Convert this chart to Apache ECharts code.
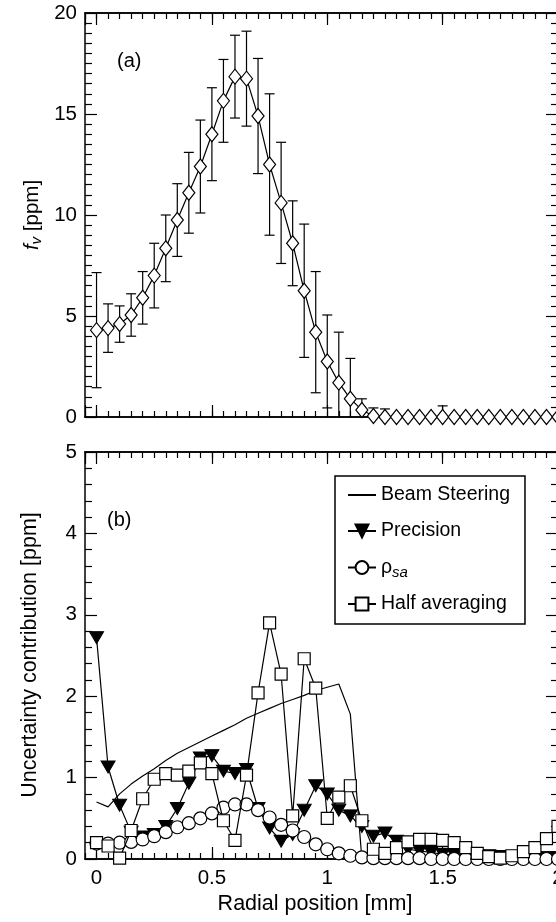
<!DOCTYPE html>
<html><head><meta charset="utf-8">
<script src="https://cdn.jsdelivr.net/npm/echarts@6/dist/echarts.min.js"></script>
<style>html,body{margin:0;padding:0;background:#fff}#c{width:556px;height:922px}</style>
</head><body><div id="c"></div>
<script>
const radialPositions = [0,0.05,0.1,0.15,0.2,0.25,0.3,0.35,0.4,0.45,0.5,0.55,0.6,0.65,0.7,0.75,0.8,0.85,0.9,0.95,1,1.05,1.1,1.15,1.2,1.25,1.3,1.35,1.4,1.45,1.5,1.55,1.6,1.65,1.7,1.75,1.8,1.85,1.9,1.95,2];
const fvValues = [4.3,4.4,4.6,5.05,5.9,7.0,8.35,9.75,11.1,12.4,14.0,15.65,16.85,16.75,14.9,12.5,10.6,8.6,6.25,4.2,2.75,1.7,0.9,0.35,0.05,0,0,0,0,0,0,0,0,0,0,0,0,0,0,0,0];
const fvErrors = [2.85,1.2,0.9,1.05,1.3,1.6,1.65,1.8,2.0,2.3,2.3,2.05,2.05,2.35,2.85,3.5,3.0,2.1,3.3,3.0,2.3,2.5,2.0,0.55,0.4,0.4,0,0,0,0,0.55,0,0,0,0,0,0,0,0,0,0];
const beamSteering = [0.70,0.64,0.80,0.92,1.02,1.11,1.21,1.30,1.37,1.44,1.51,1.58,1.65,1.73,1.79,1.85,1.91,1.96,2.01,2.07,2.11,2.15,1.78,0,0,0,0,0,0,0,0,0,0,0,0,0,0,0,0,0,0];
const precision = [2.72,1.13,0.66,0.33,0.27,0.3,0.4,0.62,0.93,1.24,1.27,1.08,1.05,1.1,0.62,0.38,0.22,0.3,0.6,0.9,0.8,0.6,0.53,0.4,0.28,0.32,0.22,0.12,0.1,0.08,0.06,0.05,0.05,0.04,0.04,0.03,0.03,0.03,0.02,0.02,0.02];
const rhoSa = [0.19,0.19,0.2,0.21,0.24,0.28,0.33,0.39,0.44,0.5,0.56,0.63,0.67,0.67,0.6,0.51,0.42,0.35,0.27,0.18,0.12,0.07,0.04,0.02,0.01,0.01,0.01,0.01,0.01,0,0,0,0,0,0,0,0,0,0,0,0];
const halfAveraging = [0.2,0.16,0.01,0.35,0.74,0.98,1.05,1.03,1.08,1.18,1.05,0.47,0.23,1.03,2.04,2.9,2.27,0.53,2.46,2.1,0.5,0.76,0.9,0.47,0.12,0.07,0.14,0.21,0.24,0.24,0.23,0.2,0.14,0.07,0.03,0.01,0.04,0.09,0.14,0.25,0.4];
const seriesNames = ['Beam Steering','Precision','ρsa','Half averaging'];
const xTickLabels = ['0','0.5','1','1.5','2'];

const FONT = 'Liberation Sans, Arial, Helvetica, sans-serif';
const BLACK = '#000';
const chart = echarts.init(document.getElementById('c'), null, {renderer:'canvas'});

function pairs(vals){ return radialPositions.map((x,i)=>[x, vals[i]]); }

function xAxesFor(grid, labels){
  const base = {gridIndex:grid, type:'value', min:-0.05, max:2.0, splitLine:{show:false},
    axisLine:{show:true, onZero:false, lineStyle:{color:BLACK, width:1.5}}};
  const tickStyle = {color:BLACK, width:1.2};
  return [
    Object.assign({}, base, {position:'bottom', interval:0.05, axisTick:{show:true, inside:true, length:6, lineStyle:tickStyle}, axisLabel:{show:false}}),
    Object.assign({}, base, {position:'bottom', splitNumber:4, axisTick:{show:true, inside:true, length:12, lineStyle:tickStyle},
      axisLabel:{show:labels, showMinLabel:false, margin:9, color:BLACK, fontFamily:FONT, fontSize:20.5,
        formatter:(v)=>{ const i = xTickLabels.indexOf(String(v)); return i>=0 ? xTickLabels[i] : ''; }}}),
    Object.assign({}, base, {position:'top', interval:0.05, axisTick:{show:true, inside:true, length:6, lineStyle:tickStyle}, axisLabel:{show:false}}),
    Object.assign({}, base, {position:'top', splitNumber:4, axisTick:{show:true, inside:true, length:12, lineStyle:tickStyle}, axisLabel:{show:false}})
  ];
}
function yAxesFor(grid, max, interval, minorSplit){
  const base = {gridIndex:grid, type:'value', min:0, max:max, interval:interval, splitLine:{show:false},
    axisLine:{show:true, onZero:false, lineStyle:{color:BLACK, width:1.5}},
    axisTick:{show:true, inside:true, length:12, lineStyle:{color:BLACK, width:1.2}},
    minorTick:{show:true, splitNumber:minorSplit, length:7, lineStyle:{color:BLACK, width:1.2}}};
  return [
    Object.assign({}, base, {position:'left', axisLabel:{show:true, margin:8, color:BLACK, fontFamily:FONT, fontSize:20.5}}),
    Object.assign({}, base, {position:'right', axisLabel:{show:false}})
  ];
}

function errorBarRender(params, api){
  const err = api.value(3);
  if (!err) return null;
  const x = api.value(0);
  const lo = api.coord([x, api.value(1)]);
  const hi = api.coord([x, api.value(2)]);
  const w = 5;
  const st = {stroke:BLACK, lineWidth:1.2, fill:null};
  return {type:'group', children:[
    {type:'line', shape:{x1:lo[0], y1:lo[1], x2:hi[0], y2:hi[1]}, style:st},
    {type:'line', shape:{x1:hi[0]-w, y1:hi[1], x2:hi[0]+w, y2:hi[1]}, style:st},
    {type:'line', shape:{x1:lo[0]-w, y1:lo[1], x2:lo[0]+w, y2:lo[1]}, style:st}
  ]};
}

const triDown = 'path://M0,0L20,0L10,17Z';

const option = {
  animation:false,
  backgroundColor:'#fff',
  grid:[
    {left:85, top:13, width:473, height:404, containLabel:false, outerBoundsMode:'none'},
    {left:85, top:452, width:473, height:407, containLabel:false, outerBoundsMode:'none'}
  ],
  xAxis: xAxesFor(0,false).concat(xAxesFor(1,true)),
  yAxis: yAxesFor(0,20,5,10).concat(yAxesFor(1,5,1,5)),
  legend:{
    show:true, orient:'vertical', left:335, top:476, selectedMode:false,
    data:seriesNames,
    backgroundColor:'#fff', borderColor:BLACK, borderWidth:1.5, borderRadius:0,
    padding:[7,15,8,12], itemGap:12, itemWidth:28, itemHeight:16,
    textStyle:{fontFamily:FONT, fontSize:19.5, color:BLACK, lineHeight:24,
      rich:{
        g:{fontFamily:FONT, fontSize:19.5, color:BLACK, lineHeight:24},
        s:{fontFamily:FONT, fontSize:15, fontStyle:'italic', color:BLACK, lineHeight:14, padding:[10,0,0,0]}
      }},
    formatter:(name)=> name==='ρsa' ? '{g|ρ}{s|sa}' : name
  },
  graphic:[
    {type:'text', left:117, top:51, style:{text:'(a)', fontFamily:FONT, fontSize:20, fill:BLACK}},
    {type:'text', left:107, top:510, style:{text:'(b)', fontFamily:FONT, fontSize:20, fill:BLACK}},
    {type:'text', x:32, y:215, rotation:Math.PI/2,
      style:{text:'{i|f}{v|v}{n| [ppm]}', align:'center', verticalAlign:'middle', fill:BLACK,
        rich:{i:{fontFamily:FONT, fontSize:20.5, fontStyle:'italic', fill:BLACK},
              v:{fontFamily:FONT, fontSize:15, fontStyle:'italic', fill:BLACK, padding:[10,0,0,0]},
              n:{fontFamily:FONT, fontSize:20.5, fill:BLACK}}}},
    {type:'text', x:30, y:655, rotation:Math.PI/2,
      style:{text:'Uncertainty contribution [ppm]', align:'center', verticalAlign:'middle', fill:BLACK, fontFamily:FONT, fontSize:21.5}},
    {type:'text', x:315, y:904,
      style:{text:'Radial position [mm]', align:'center', verticalAlign:'middle', fill:BLACK, fontFamily:FONT, fontSize:21.5}}
  ],
  series:[
    {type:'custom', name:'fv error', xAxisIndex:0, yAxisIndex:0, clip:true, z:1,
      encode:{x:0, y:[1,2]},
      data: radialPositions.map((x,i)=>[x, fvValues[i]-fvErrors[i], fvValues[i]+fvErrors[i], fvErrors[i]]),
      renderItem: errorBarRender},
    {type:'line', name:'fv', xAxisIndex:0, yAxisIndex:0, data:pairs(fvValues), z:3, clip:true,
      symbol:'diamond', symbolSize:[12,15], showAllSymbol:true,
      lineStyle:{color:BLACK, width:1.2}, itemStyle:{color:'#fff', borderColor:BLACK, borderWidth:1.2}},
    {type:'line', name:'Beam Steering', xAxisIndex:4, yAxisIndex:2, data:pairs(beamSteering), z:2,
      symbol:'none', lineStyle:{color:BLACK, width:1.2}, itemStyle:{color:'rgba(0,0,0,0)', borderWidth:0}},
    {type:'line', name:'Precision', xAxisIndex:4, yAxisIndex:2, data:pairs(precision), z:3,
      symbol:triDown, symbolSize:[14,12], symbolKeepAspect:false,
      lineStyle:{color:BLACK, width:1.2}, itemStyle:{color:BLACK, borderColor:BLACK, borderWidth:1}},
    {type:'line', name:'ρsa', xAxisIndex:4, yAxisIndex:2, data:pairs(rhoSa), z:4,
      symbol:'circle', symbolSize:13,
      lineStyle:{color:BLACK, width:1.2}, itemStyle:{color:'#fff', borderColor:BLACK, borderWidth:1.2}},
    {type:'line', name:'Half averaging', xAxisIndex:4, yAxisIndex:2, data:pairs(halfAveraging), z:5,
      symbol:'rect', symbolSize:12,
      lineStyle:{color:BLACK, width:1.2}, itemStyle:{color:'#fff', borderColor:BLACK, borderWidth:1.2}}
  ]
};
chart.setOption(option);
</script></body></html>
